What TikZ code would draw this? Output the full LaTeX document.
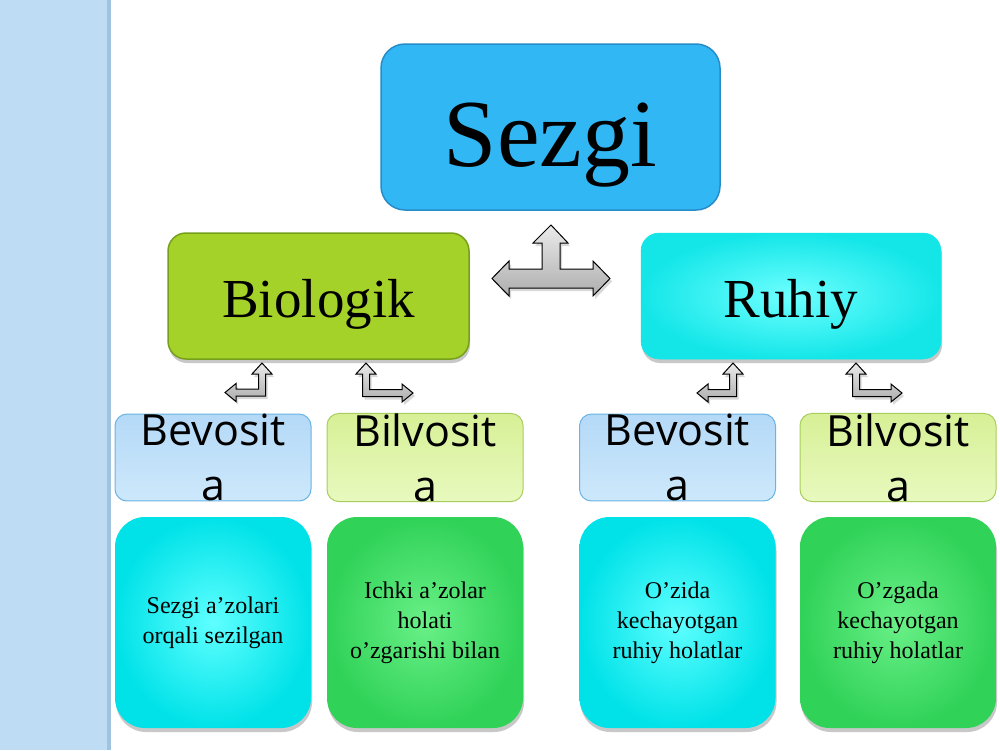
\documentclass[tikz,border=0pt]{standalone}
\usepackage{fontspec}
\setmainfont{Liberation Serif}
\newfontfamily\osans{Open Sans}
\usetikzlibrary{shadows}
\definecolor{stripblue}{RGB}{190,220,243}
\definecolor{stripedge}{RGB}{160,196,224}
\definecolor{sezgifill}{RGB}{50,183,245}
\definecolor{sezgiline}{RGB}{38,140,200}
\definecolor{biofill}{RGB}{165,210,40}
\definecolor{bioline}{RGB}{118,160,28}
\definecolor{ruhin}{RGB}{110,255,255}
\definecolor{ruhout}{RGB}{20,230,232}
\definecolor{bevtop}{RGB}{180,217,247}
\definecolor{bevbot}{RGB}{205,232,251}
\definecolor{bevline}{RGB}{105,180,228}
\definecolor{biltop}{RGB}{215,240,150}
\definecolor{bilbot}{RGB}{232,249,190}
\definecolor{billine}{RGB}{168,205,92}
\definecolor{cyin}{RGB}{95,255,255}
\definecolor{cyout}{RGB}{0,226,232}
\definecolor{grin}{RGB}{105,240,135}
\definecolor{grout}{RGB}{48,210,88}
\tikzset{
  softshadow/.style={drop shadow={shadow xshift=1pt, shadow yshift=-4pt, opacity=.3, fill=black!70}},
  topbox/.style={draw=sezgiline, line width=1.5pt, fill=sezgifill, rounded corners=24pt,
    minimum width=339pt, minimum height=166pt, inner sep=0pt,
    font=\fontsize{96}{110}\selectfont, text height=100pt, text depth=22pt},
  biobox/.style={draw=bioline, line width=1.5pt, fill=biofill, rounded corners=18pt,
    minimum width=301pt, minimum height=126pt, inner sep=0pt,
    font=\fontsize{55}{64}\selectfont, text height=60pt, text depth=18pt, softshadow},
  ruhbox/.style={draw=ruhout, line width=.5pt, inner color=ruhin, outer color=ruhout, rounded corners=18pt,
    minimum width=300pt, minimum height=126pt, inner sep=0pt,
    font=\fontsize{55}{64}\selectfont, text height=60pt, text depth=18pt, softshadow},
  midbox/.style={line width=1pt, rounded corners=12pt, minimum width=196pt, minimum height=85pt,
    inner sep=0pt, align=center, font=\osans\fontsize{43}{55}\selectfont},
  bevbox/.style={midbox, draw=bevline, top color=bevtop, bottom color=bevbot},
  bilbox/.style={midbox, draw=billine, top color=biltop, bottom color=bilbot},
  lowbox/.style={rounded corners=30pt, minimum width=196pt, minimum height=211pt, inner sep=0pt,
    align=center, font=\fontsize{24}{30}\selectfont, softshadow},
  cybox/.style={lowbox, inner color=cyin, outer color=cyout},
  grbox/.style={lowbox, inner color=grin, outer color=grout},
  blockarrow/.style={draw=black, line width=1pt, top color=black!8, bottom color=black!32,
    drop shadow={shadow xshift=2pt, shadow yshift=-3pt, opacity=.25, fill=black!60}}
}
\newcommand\bentupleft[4]{% centre x, tip y, shaft y, tip x
  \draw[blockarrow] (#1,#2) -- ({#1+10},{#2+11}) -- ({#1+3.5},{#2+11}) -- ({#1+3.5},{#3+3.5})
    -- ({#4+11},{#3+3.5}) -- ({#4+11},{#3+9}) -- (#4,#3) -- ({#4+11},{#3-9}) -- ({#4+11},{#3-3.5})
    -- ({#1-3.5},{#3-3.5}) -- ({#1-3.5},{#2+11}) -- ({#1-10},{#2+11}) -- cycle;}
\newcommand\bentupright[4]{% centre x, tip y, shaft y, tip x
  \draw[blockarrow] (#1,#2) -- ({#1-10},{#2+11}) -- ({#1-3.5},{#2+11}) -- ({#1-3.5},{#3+3.5})
    -- ({#4-11},{#3+3.5}) -- ({#4-11},{#3+9}) -- (#4,#3) -- ({#4-11},{#3-9}) -- ({#4-11},{#3-3.5})
    -- ({#1+3.5},{#3-3.5}) -- ({#1+3.5},{#2+11}) -- ({#1+10},{#2+11}) -- cycle;}
\begin{document}
\begin{tikzpicture}[x=1pt,y=-1pt]
\useasboundingbox (0,0) rectangle (1000,750);
\fill[white] (0,0) rectangle (1000,750);
\fill[stripblue] (0,0) rectangle (108,750);
\fill[stripedge] (107,0) rectangle (111,750);

% top level
\node[topbox] (sezgi) at (550.5,127) {Sezgi};

% second level
\node[biobox] (bio) at (318.5,296) {Biologik};
\node[ruhbox] (ruh) at (791,296) {Ruhiy};

% three-way arrow
\draw[blockarrow] (551,225) -- (568,243) -- (560,243) -- (560,269) -- (593,269) -- (593,261)
  -- (610,278.5) -- (593,296) -- (593,288) -- (509,288) -- (509,296) -- (492,278.5) -- (509,261)
  -- (509,269) -- (542,269) -- (542,243) -- (533,243) -- cycle;

% third level
\node[bevbox] (bevL) at (213,457.5) {Bevosit\\a};
\node[bilbox] (bilL) at (425,457.5) {Bilvosit\\a};
\node[bevbox] (bevR) at (677.5,457.5) {Bevosit\\a};
\node[bilbox] (bilR) at (898,457.5) {Bilvosit\\a};

% bent arrows
\bentupleft{262}{363}{392.5}{225}
\bentupright{366}{363}{393}{413}
\bentupleft{733}{363}{393}{697}
\bentupright{856}{363}{393}{902}

% bottom level
\node[cybox] (d1) at (213,622.5) {Sezgi a’zolari\\orqali sezilgan};
\node[grbox] (d2) at (425,622.5) {Ichki a’zolar\\holati\\o’zgarishi bilan};
\node[cybox] (d3) at (677.5,622.5) {O’zida\\kechayotgan\\ruhiy holatlar};
\node[grbox] (d4) at (898,622.5) {O’zgada\\kechayotgan\\ruhiy holatlar};
\end{tikzpicture}
\end{document}
